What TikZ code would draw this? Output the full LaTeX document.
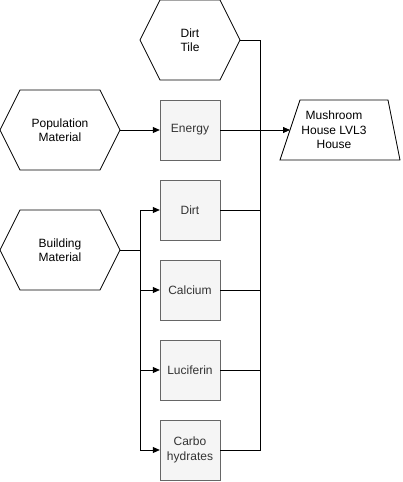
\documentclass[tikz,border=0pt]{standalone}
\usepackage{fontspec}
\setmainfont{Liberation Sans}
\usetikzlibrary{arrows.meta}
\definecolor{boxfill}{HTML}{F5F5F5}
\definecolor{boxline}{HTML}{666666}
\definecolor{boxtext}{HTML}{333333}
\begin{document}
\begin{tikzpicture}[x=1pt,y=-1pt,
  txt/.style={font=\fontsize{12}{14.5}\selectfont, align=center, inner sep=0pt},
  gbox/.style={draw=boxline, fill=boxfill, minimum width=60pt, minimum height=60pt, text=boxtext, font=\fontsize{12}{14.5}\selectfont, align=center, inner sep=0pt},
  hexline/.style={draw=black, line width=0.8pt, line join=miter},
  conn/.style={draw=black, line width=0.8pt},
  arr/.style={conn, -{Triangle[length=7pt,width=6pt]}}]
\useasboundingbox (0,0) rectangle (402,482);
% hexagons
\draw[hexline] (140,40) -- (160,0) -- (220,0) -- (240,40) -- (220,80) -- (160,80) -- cycle;
\node[txt] (dirttile) at (190,40) {Dirt\\Tile};
\coordinate (dirttileE) at (240,40);
\draw[hexline] (0,130) -- (20,90) -- (100,90) -- (120,130) -- (100,170) -- (20,170) -- cycle;
\node[txt] (popmat) at (60,130) {Population\\Material};
\coordinate (popmatE) at (120,130);
\draw[hexline] (0,250) -- (20,210) -- (100,210) -- (120,250) -- (100,290) -- (20,290) -- cycle;
\node[txt] (bldmat) at (60,250) {Building\\Material};
\coordinate (bldmatE) at (120,250);
% trapezoid
\draw[hexline] (280,160) -- (300,100) -- (388,100) -- (400,160) -- cycle;
\node[txt] (house) at (334,130) {Mushroom\\House LVL3\\House};
\coordinate (houseW) at (290,130);
% boxes
\node[gbox] (energy) at (190,130) {Energy};
\node[gbox] (dirt) at (190,210) {Dirt};
\node[gbox] (calcium) at (190,290) {Calcium};
\node[gbox] (luciferin) at (190,370) {Luciferin};
\node[gbox] (carbo) at (190,450) {Carbo\\hydrates};
% connectors to house
\coordinate (busR) at (260,130);
\draw[conn] (dirttileE) -| (busR);
\draw[conn] (dirt.east) -| (busR);
\draw[conn] (calcium.east) -| (busR);
\draw[conn] (luciferin.east) -| (busR);
\draw[conn] (carbo.east) -| (busR);
\draw[arr] (energy.east) -- (houseW);
\draw[arr] (popmatE) -- (energy.west);
% building material bus
\coordinate (busL) at (140,250);
\draw[arr] (bldmatE) -- (busL) |- (dirt.west);
\draw[arr] (busL) |- (calcium.west);
\draw[arr] (busL) |- (luciferin.west);
\draw[arr] (busL) |- (carbo.west);
\end{tikzpicture}
\end{document}
